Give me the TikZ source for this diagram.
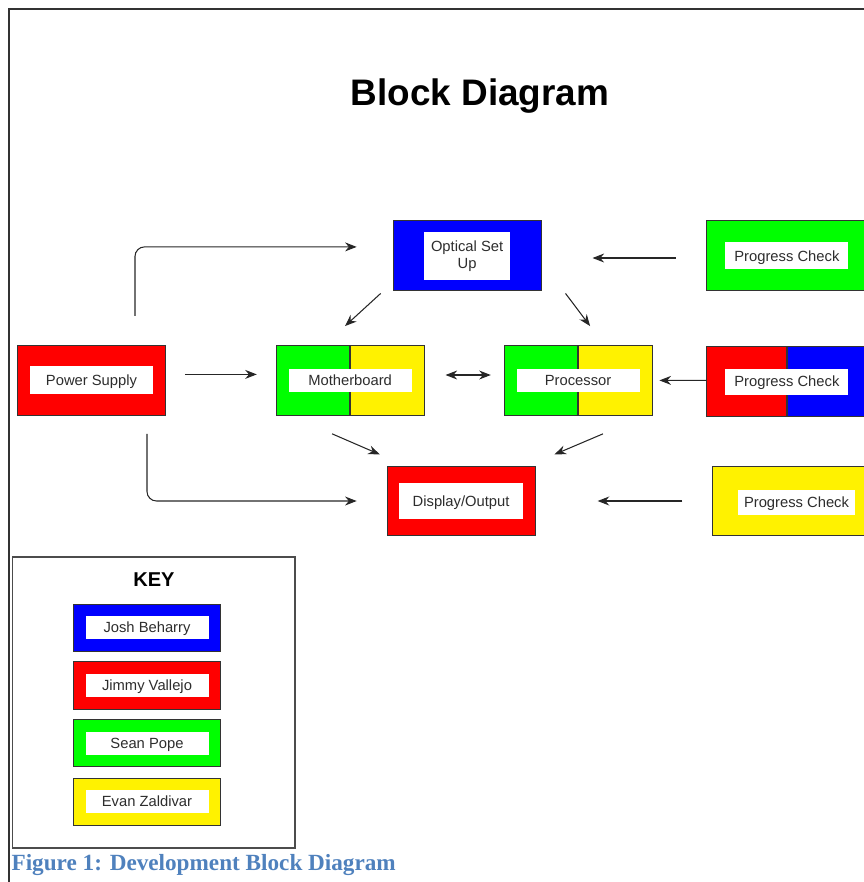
\documentclass[tikz,border=0pt]{standalone}
\usepackage{fontspec}
\setmainfont{Liberation Sans}
\newfontfamily\capfont{Liberation Serif}
\usetikzlibrary{arrows.meta,calc}
\tikzset{>={Stealth[length=11pt,width=8.5pt]}}
\definecolor{capblue}{RGB}{79,129,189}
\definecolor{txtgray}{RGB}{45,45,45}
\tikzset{
  block/.style={draw=black!80,line width=0.9pt,minimum width=4.93cm,minimum height=2.33cm,inner sep=0pt},
  wide/.style={block,minimum width=5.33cm},
  keyblock/.style={block,minimum height=1.57cm},
  tag/.style={fill=white,text=txtgray,font=\fontsize{14}{16}\selectfont,minimum width=4.1cm,minimum height=0.77cm,inner sep=0pt,align=center,text height=10pt,text depth=0pt},
  split/.style 2 args={path picture={
    \fill[#1] (path picture bounding box.south west) rectangle (path picture bounding box.north);
    \fill[#2] (path picture bounding box.north) rectangle (path picture bounding box.south east);
    \draw[black!80,line width=1.2pt] (path picture bounding box.north) -- (path picture bounding box.south);}},
  flow/.style={->,line width=1pt,draw=black!85}
}

\begin{document}
\begin{tikzpicture}
\clip (0,0) rectangle (28.8,-29.4);
\draw[line width=1.6pt,black!80] (0.3,-29.6) -- (0.3,-0.3) -- (29,-0.3);

\node (title) at (16,-3.2) {\fontsize{35}{40}\selectfont\bfseries Block Diagram};

\node[block,fill=blue] (optical) at (15.57,-8.53) {};
\node[tag,text height={},text depth={},minimum width=2.87cm,minimum height=1.6cm] (optical-txt) at (optical.center) {Optical Set\\Up};

\node[wide,fill=green] (check1) at (26.23,-8.53) {};
\node[tag,minimum height=0.9cm] (check1-txt) at (check1.center) {Progress Check};

\node[block,fill=red] (power) at (3.05,-12.68) {};
\node[tag,minimum height=0.93cm] (power-txt) at (power.center) {Power Supply};

\node[block,split={green}{yellow}] (mother) at (11.67,-12.68) {};
\node[tag] (mother-txt) at (mother.center) {Motherboard};

\node[block,split={green}{yellow}] (proc) at (19.27,-12.68) {};
\node[tag] (proc-txt) at (proc.center) {Processor};

\node[wide,split={red}{blue}] (check2) at (26.23,-12.72) {};
\node[tag,minimum height=0.87cm] (check2-txt) at (check2.center) {Progress Check};

\node[block,fill=red] (display) at (15.37,-16.7) {};
\node[tag,minimum width=4.13cm,minimum height=1.17cm] (display-txt) at (display.center) {Display/Output};

\node[wide,fill=yellow] (check3) at (26.43,-16.7) {};
\node[tag,minimum width=3.9cm,minimum height=0.83cm] (check3-txt) at ([xshift=0.12cm,yshift=-0.05cm]check3.center) {Progress Check};

\draw[flow,rounded corners=9pt] ([xshift=1.45cm,yshift=0.97cm]power.north) |- ([xshift=-1.2cm,yshift=0.3cm]optical.west);
\draw[flow] ([xshift=-1.03cm,yshift=-0.07cm]check1.west) -- ([xshift=1.7cm,yshift=-0.07cm]optical.east);
\draw[flow] ([xshift=-0.4cm,yshift=-0.07cm]optical.south west) -- ([shift={(-0.17,0.63)}]mother.north);
\draw[flow] ([xshift=0.8cm,yshift=-0.07cm]optical.south east) -- ([shift={(0.4,0.63)}]proc.north);
\draw[flow] ([xshift=0.63cm,yshift=0.2cm]power.east) -- ([xshift=-0.63cm,yshift=0.2cm]mother.west);
\draw[flow,<->] ([xshift=0.7cm,yshift=0.18cm]mother.east) -- ([xshift=-0.43cm,yshift=0.18cm]proc.west);
\draw[flow] ([yshift=0.04cm]check2.west) -- ([xshift=0.23cm]proc.east);
\draw[flow] ([shift={(-0.6,-0.6)}]mother.south) -- ([shift={(-0.23,0.37)}]display.north west);
\draw[flow] ([shift={(0.83,-0.6)}]proc.south) -- ([shift={(0.63,0.37)}]display.north east);
\draw[flow,rounded corners=9pt] ([shift={(1.85,-0.6)}]power.south) |- ([xshift=-1cm]display.west);
\draw[flow] ([xshift=-1cm]check3.west) -- ([xshift=2.07cm]display.east);

\node[draw=black!70,line width=1.2pt,minimum width=9.43cm,minimum height=9.7cm] (key) at (5.12,-23.42) {};
\node[font=\fontsize{19}{22}\selectfont\bfseries] (key-title) at (5.13,-19.33) {KEY};
\foreach \who/\col/\y in {Josh Beharry/blue/-20.92,Jimmy Vallejo/red/-22.85,Sean Pope/green/-24.78,Evan Zaldivar/yellow/-26.72}{
  \node[keyblock,fill=\col] (key-\col) at (4.9,\y) {};
  \node[tag] (key-\col-txt) at (key-\col.center) {\who};
}

\node[anchor=west,text=capblue,font=\capfont\bfseries\fontsize{22}{25}\selectfont,inner sep=0pt] (caption) at (0.38,-28.85) {Figure 1: Development Block Diagram};
\end{tikzpicture}
\end{document}
